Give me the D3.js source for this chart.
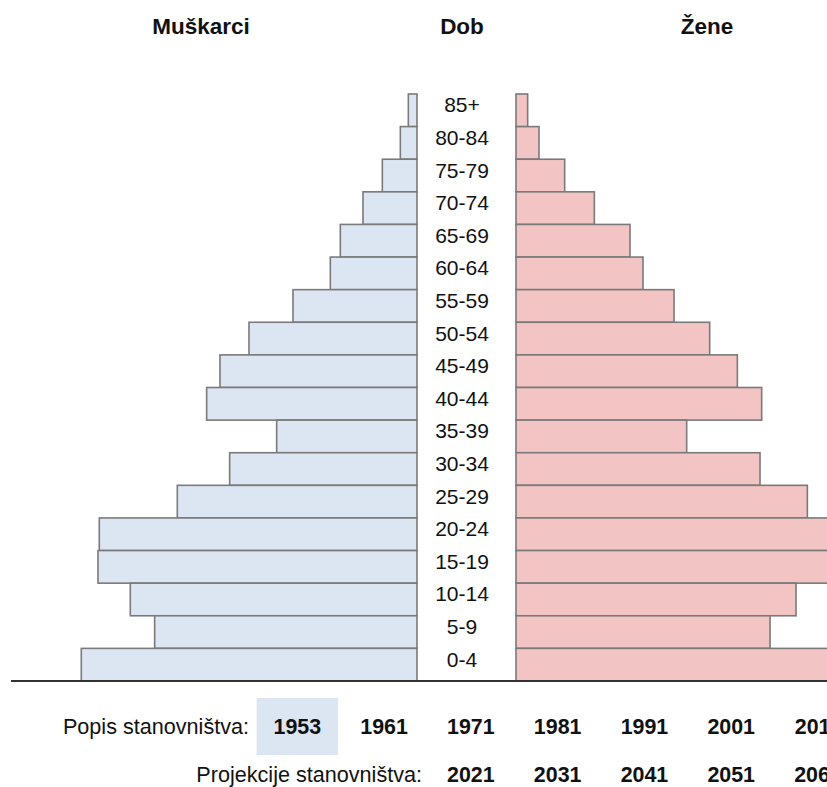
<!DOCTYPE html>
<html>
<head>
<meta charset="utf-8">
<script src="https://cdn.jsdelivr.net/npm/d3@7"></script>
<style>
  html, body { margin: 0; padding: 0; background: #fff; overflow: hidden; }
  svg { display: block; font-family: "Liberation Sans", Arial, sans-serif; }
</style>
</head>
<body>
<svg id="chart" width="827" height="787"></svg>
<script>
// Age groups (top to bottom)
const ageGroups = ["85+","80-84","75-79","70-74","65-69","60-64","55-59","50-54","45-49",
                   "40-44","35-39","30-34","25-29","20-24","15-19","10-14","5-9","0-4"];
// Population 1953 (thousands)
const maleValues   = [5.2, 10.0, 20.8, 32.4, 46.0, 52.0, 74.4, 100.8, 118.2,
                      126.2, 84.2, 112.4, 143.8, 190.6, 191.4, 172.0, 157.4, 201.4];
const femaleValues = [7.0, 13.8, 29.2, 47.0, 68.4, 76.2, 94.8, 116.2, 132.8,
                      147.4, 102.4, 146.4, 174.8, 201.0, 193.0, 168.0, 152.4, 194.0];
const censusYears = ["1953","1961","1971","1981","1991","2001","2011"];
const projectionYears = ["2021","2031","2041","2051","2061"];
const selectedYear = "1953";
const titles = { male: "Muškarci", age: "Dob", female: "Žene" };

const svg = d3.select("#chart");

const maleRight = 417, femaleLeft = 516;
const y = d3.scaleBand().domain(ageGroups).range([94, 681]).padding(0);
const x = d3.scaleLinear().domain([0, 250]).range([0, 416.7]);

const stroke = "#7a7a7a";

// Male bars
svg.append("g").selectAll("rect")
  .data(ageGroups.map((a, i) => ({a, v: maleValues[i]})))
  .join("rect")
  .attr("x", d => maleRight - x(d.v))
  .attr("y", d => y(d.a))
  .attr("width", d => x(d.v))
  .attr("height", y.bandwidth())
  .attr("fill", "#dce6f2")
  .attr("stroke", stroke)
  .attr("stroke-width", 1.6);

// Female bars
svg.append("g").selectAll("rect")
  .data(ageGroups.map((a, i) => ({a, v: femaleValues[i]})))
  .join("rect")
  .attr("x", femaleLeft)
  .attr("y", d => y(d.a))
  .attr("width", d => x(d.v))
  .attr("height", y.bandwidth())
  .attr("fill", "#f2c4c4")
  .attr("stroke", stroke)
  .attr("stroke-width", 1.6);

// Age labels
svg.append("g").selectAll("text")
  .data(ageGroups)
  .join("text")
  .attr("x", 462)
  .attr("y", d => y(d) + y.bandwidth() / 2 + 2)
  .attr("text-anchor", "middle")
  .attr("font-size", 21)
  .attr("fill", "#111")
  .text(d => d);

// Baseline
svg.append("line")
  .attr("x1", 11).attr("x2", 827)
  .attr("y1", 681).attr("y2", 681)
  .attr("stroke", "#333").attr("stroke-width", 2);

// Titles
const tg = svg.append("g").attr("font-weight", "bold").attr("font-size", 22.5)
  .attr("text-anchor", "middle").attr("fill", "#111");
tg.append("text").attr("x", 201).attr("y", 34).text(titles.male);
tg.append("text").attr("x", 462).attr("y", 34).text(titles.age);
tg.append("text").attr("x", 707).attr("y", 34).text(titles.female);

// Year selector
const yearX = d3.scalePoint().domain(censusYears).range([297.3, 818]);
svg.append("rect")
  .attr("x", yearX(selectedYear) - 40.7).attr("y", 698)
  .attr("width", 81.4).attr("height", 57)
  .attr("fill", "#dce6f2");

svg.append("text").attr("x", 249).attr("y", 734)
  .attr("text-anchor", "end").attr("font-size", 21.6).attr("fill", "#111")
  .text("Popis stanovništva:");
svg.append("g").selectAll("text")
  .data(censusYears).join("text")
  .attr("x", d => yearX(d)).attr("y", 734)
  .attr("text-anchor", "middle").attr("font-size", 21.4).attr("font-weight", "bold")
  .attr("fill", "#111")
  .text(d => d);

svg.append("text").attr("x", 422).attr("y", 782)
  .attr("text-anchor", "end").attr("font-size", 21.6).attr("fill", "#111")
  .text("Projekcije stanovništva:");
svg.append("g").selectAll("text")
  .data(projectionYears).join("text")
  .attr("x", (d, i) => yearX(censusYears[i + 2])).attr("y", 782)
  .attr("text-anchor", "middle").attr("font-size", 21.4).attr("font-weight", "bold")
  .attr("fill", "#111")
  .text(d => d);
</script>
</body>
</html>
